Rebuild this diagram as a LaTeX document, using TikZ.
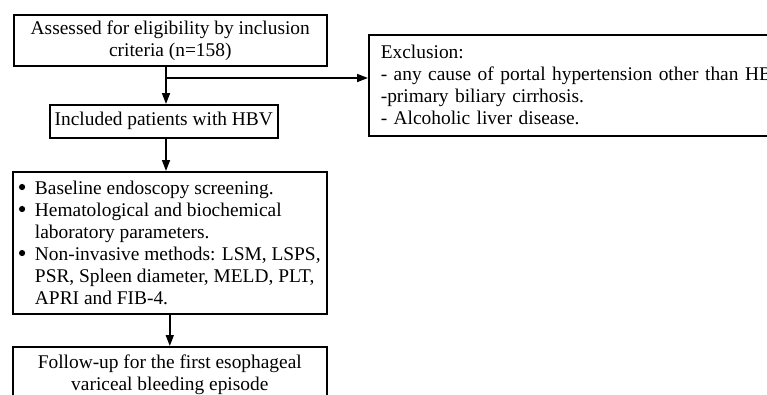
\documentclass[tikz,border=0pt]{standalone}
\usepackage{fontspec}
\setmainfont{Liberation Serif}
\usetikzlibrary{arrows.meta,positioning,calc}

\newcommand{\blt}{\makebox[16pt][l]{\raisebox{0.22em}{\tikz\fill[black] (0,0) circle (3.1pt);}}}

\begin{document}
\begin{tikzpicture}[
  x=1pt, y=-1pt,
  font=\fontsize{19.4}{22}\selectfont,
  box/.style={draw, line width=1.6pt, inner sep=4pt, anchor=north west},
  arr/.style={-{Triangle[length=11pt,width=8pt]}, line width=1.6pt},
  plain/.style={line width=1.6pt}
]
\fill[white] (0,0) rectangle (767,394);
\clip (0,0) rectangle (767,394);
\useasboundingbox (0,0) rectangle (767,394);

\node[box, minimum width=313, minimum height=51, align=center] (assess) at (13,14)
  {Assessed for eligibility by inclusion\\criteria (n=158)};
\node[box, minimum height=101, text width=415, inner xsep=12pt, align=left] (excl) at (368,34)
  {Exclusion:\\
   - any cause of portal hypertension other than HBV\\
   -primary biliary cirrhosis.\\
   - Alcoholic liver disease.};
\node[box, minimum width=228, minimum height=33, align=center] (incl) at (49,104)
  {Included patients with HBV};
\node[box, minimum width=314, minimum height=142, align=left, inner xsep=3pt] (base) at (12,171)
  {\blt Baseline endoscopy screening.\\
   \blt Hematological and biochemical\\
   \hspace*{16pt}laboratory parameters.\\
   \blt Non-invasive methods: LSM, LSPS,\\
   \hspace*{16pt}PSR, Spleen diameter, MELD, PLT,\\
   \hspace*{16pt}APRI and FIB-4.};
\node[box, minimum width=314, minimum height=56, align=center] (follow) at (12,346)
  {Follow-up for the first esophageal\\variceal bleeding episode};

% branch to the exclusion box
\coordinate (split) at (166,78);
\draw[plain] (assess.south -| split) -- (split);
\draw[arr] (split) -- (incl.north -| split);
\draw[arr] (split) -- (excl.west |- split);
\draw[arr] (incl.south -| split) -- (base.north -| split);
\draw[arr] (base.south) -- (follow.north);
\end{tikzpicture}
\end{document}
